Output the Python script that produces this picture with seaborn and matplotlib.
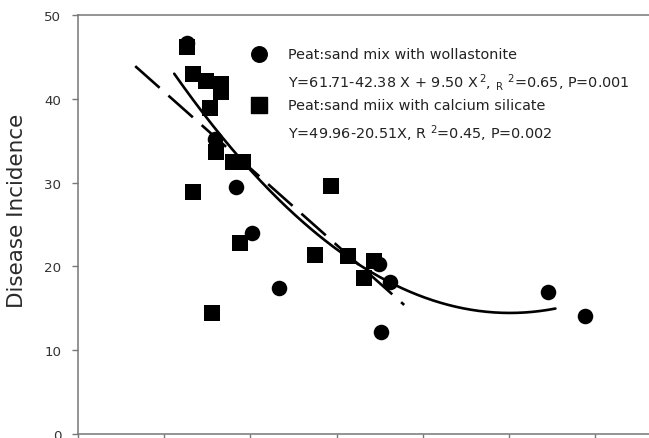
import numpy as np
import pandas as pd
import matplotlib
matplotlib.use("Agg")
import matplotlib.pyplot as plt
import seaborn as sns

# Observations: peat:sand mix amended with wollastonite
woll_x = [0.565, 0.709, 0.817, 0.900, 1.040, 1.555, 1.610, 1.566, 2.430, 2.620]
woll_y = [46.6, 35.2, 29.5, 24.0, 17.4, 20.3, 18.1, 12.2, 16.9, 14.1]

# Observations: peat:sand mix amended with calcium silicate
casi_x = [0.565, 0.595, 0.662, 0.740, 0.740, 0.683, 0.714, 0.800, 0.850,
          0.595, 0.838, 0.693, 1.226, 1.306, 1.395, 1.530, 1.475]
casi_y = [46.2, 43.0, 42.1, 41.8, 40.8, 38.9, 33.6, 32.5, 32.5,
          28.9, 22.8, 14.4, 21.4, 29.6, 21.2, 20.6, 18.6]

# Fitted regressions
quad_coef = (61.71, -42.38, 9.50)    # wollastonite
lin_coef = (49.96, -20.51)           # calcium silicate
quad_range = (0.497, 2.466)
lin_range = (0.2955, 1.685)

y_ticks = [0, 10, 20, 30, 40, 50]
x_tick_step = 0.4455

sns.set_theme(style="ticks")
plt.rcParams["font.family"] = ["DejaVu Sans"]
plt.rcParams["mathtext.fontset"] = "dejavusans"

W, H = 649, 439
fig = plt.figure(figsize=(W / 100, H / 100), dpi=100)
ax_left, ax_bottom = 78 / W, 4 / H
ax_h = (435 - 16) / H
x_max = 3.0
ax_w = x_max * 193.6 / W
ax = fig.add_axes([ax_left, ax_bottom, ax_w, ax_h])

df_w = pd.DataFrame({"x": woll_x, "y": woll_y})
df_c = pd.DataFrame({"x": casi_x, "y": casi_y})

sns.scatterplot(data=df_c, x="x", y="y", marker="s", s=120, color="black",
                edgecolor="black", linewidth=0, ax=ax, zorder=3)
sns.scatterplot(data=df_w, x="x", y="y", marker="o", s=125, color="black",
                edgecolor="black", linewidth=0, ax=ax, zorder=3)

xq = np.linspace(*quad_range, 200)
yq = quad_coef[0] + quad_coef[1] * xq + quad_coef[2] * xq ** 2
xl = np.linspace(*lin_range, 50)
yl = lin_coef[0] + lin_coef[1] * xl

lw = 1.9
sns.lineplot(x=xq, y=yq, color="black", linewidth=lw, ax=ax, zorder=4)
ax.plot(xl, yl, color="black", linewidth=lw, dashes=(23.5 / lw, 8.5 / lw), zorder=4)

ax.set_xlim(0, x_max)
ax.set_ylim(0, 50)
ax.set_yticks(y_ticks)
ax.set_yticklabels([str(v) for v in y_ticks])
ax.set_xticks(np.arange(0, x_max, x_tick_step))
ax.set_xticklabels([])
ax.set_xlabel("")
ax.set_ylabel("Disease Incidence", fontsize=15.5, color="#2a2a2a")
ax.yaxis.set_label_coords(-0.087, 0.534)

for side in ["left", "bottom", "top", "right"]:
    ax.spines[side].set_visible(True)
    ax.spines[side].set_color("#777777")
    ax.spines[side].set_linewidth(1.1)
ax.tick_params(axis="both", direction="out", length=4.5, width=1.0,
               color="#777777", labelsize=9.6, labelcolor="#333333", pad=7.5)


def px(x, y):
    return (x, H - y)


# Legend-style annotation block
ax.scatter(*px(259, 55), transform=None, marker="o", s=125, color="black", zorder=5)
ax.scatter(*px(259, 106), transform=None, marker="s", s=120, color="black", zorder=5)
fs = 10.4
fig.text(288 / W, 1 - 55 / H, "Peat:sand mix with wollastonite", fontsize=fs,
         color="#222222", va="center", ha="left")
fig.text(288 / W, 1 - 82 / H,
         r"Y=61.71-42.38 X + 9.50 X$^{\,2}$, $_{\mathregular{R}}$ $^{2}$=0.65, P=0.001",
         fontsize=fs, color="#222222", va="center", ha="left")
fig.text(288 / W, 1 - 106 / H, "Peat:sand miix with calcium silicate", fontsize=fs,
         color="#222222", va="center", ha="left")
fig.text(288 / W, 1 - 134 / H, r"Y=49.96-20.51X, R $^{2}$=0.45, P=0.002",
         fontsize=fs, color="#222222", va="center", ha="left")

fig.savefig("out.png", dpi=100)
